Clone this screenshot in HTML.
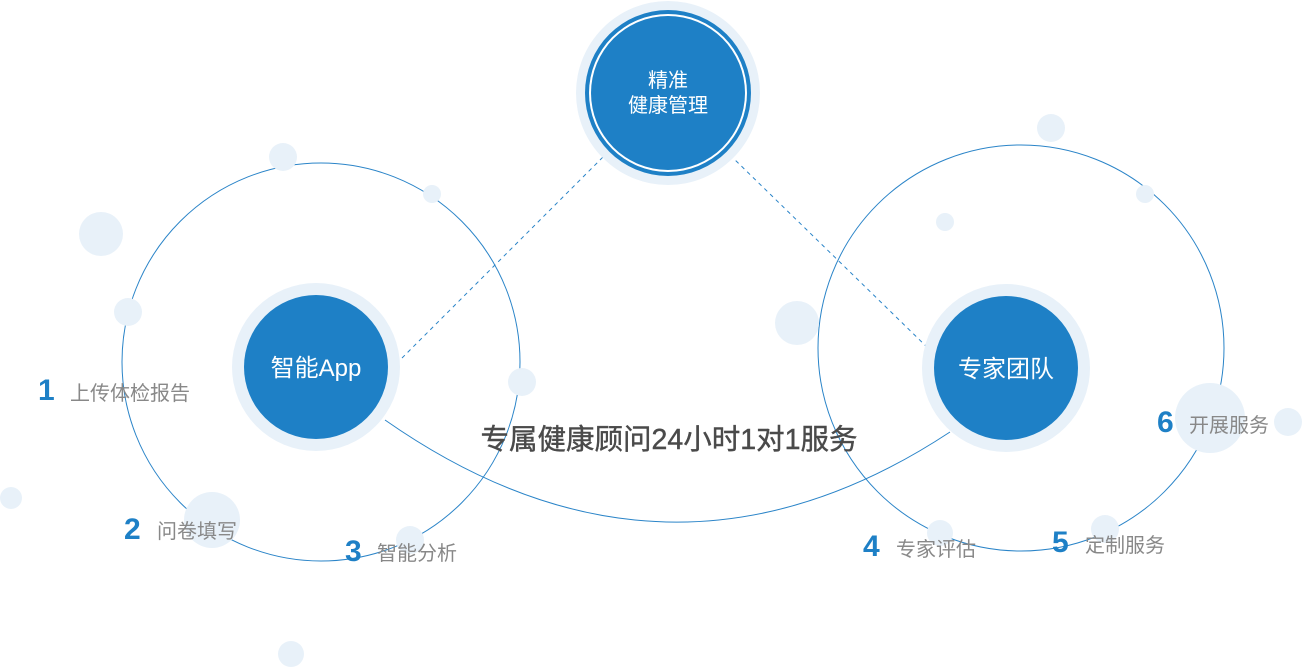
<!DOCTYPE html>
<html><head><meta charset="utf-8"><style>
html,body{margin:0;padding:0;background:#fff;}
svg{display:block}
text{font-family:"Liberation Sans","Noto Sans CJK SC",sans-serif;}
</style></head><body>
<svg width="1302" height="668" viewBox="0 0 1302 668" xmlns="http://www.w3.org/2000/svg">
<g fill="none" stroke="#2a84c8" stroke-width="1">
<circle cx="321" cy="362" r="199"/>
<circle cx="1021" cy="348" r="203"/>
<path d="M385 420 Q668 618 950 432"/>
<line x1="402" y1="358" x2="604" y2="156" stroke-dasharray="4 4"/>
<line x1="730" y1="155" x2="930" y2="350" stroke-dasharray="4 4"/>
</g>
<g fill="#e8f1f9">
<circle cx="283" cy="157" r="14"/><circle cx="432" cy="194" r="9"/><circle cx="101" cy="234" r="22"/>
<circle cx="128" cy="312" r="14"/><circle cx="522" cy="382" r="14"/><circle cx="11" cy="498" r="11"/>
<circle cx="212" cy="520" r="28"/><circle cx="410" cy="540" r="14"/><circle cx="291" cy="654" r="13"/>
<circle cx="1051" cy="128" r="14"/><circle cx="1145" cy="194" r="9"/><circle cx="945" cy="222" r="9"/>
<circle cx="797" cy="323" r="22"/><circle cx="1210" cy="418" r="35"/><circle cx="1288" cy="422" r="14"/>
<circle cx="940" cy="533" r="13"/><circle cx="1105" cy="529" r="14"/>
</g>
<circle cx="668" cy="93" r="92" fill="#e8f1f9"/>
<circle cx="668" cy="93" r="83" fill="#1e80c6"/>
<circle cx="668" cy="93" r="79" fill="#fff"/>
<circle cx="668" cy="93" r="77" fill="#1e80c6"/>
<circle cx="316" cy="367" r="84" fill="#e8f1f9"/>
<circle cx="316" cy="367" r="72" fill="#1e80c6"/>
<circle cx="1006" cy="368" r="84" fill="#e8f1f9"/>
<circle cx="1006" cy="368" r="72" fill="#1e80c6"/>
<g fill="#fff" text-anchor="middle" font-size="20">
<text x="668" y="87">精准</text>
<text x="668" y="112">健康管理</text>
<text x="316" y="376" font-size="24">智能App</text>
<text x="1006" y="377" font-size="24">专家团队</text>
</g>
<text x="669" y="449" text-anchor="middle" font-size="28.5" fill="#4a4a4a" stroke="#4a4a4a" stroke-width="0.4">专属健康顾问24小时1对1服务</text>
<g font-size="30" font-weight="bold" fill="#1e80c6">
<text x="38" y="400">1</text><text x="124" y="539">2</text><text x="345" y="561">3</text>
<text x="863" y="556">4</text><text x="1052" y="552">5</text><text x="1157" y="432">6</text>
</g>
<g font-size="20" fill="#888">
<text x="70" y="400">上传体检报告</text><text x="157" y="538">问卷填写</text><text x="377" y="560">智能分析</text>
<text x="896" y="556">专家评估</text><text x="1085" y="552">定制服务</text><text x="1189" y="432">开展服务</text>
</g>
</svg>
</body></html>
